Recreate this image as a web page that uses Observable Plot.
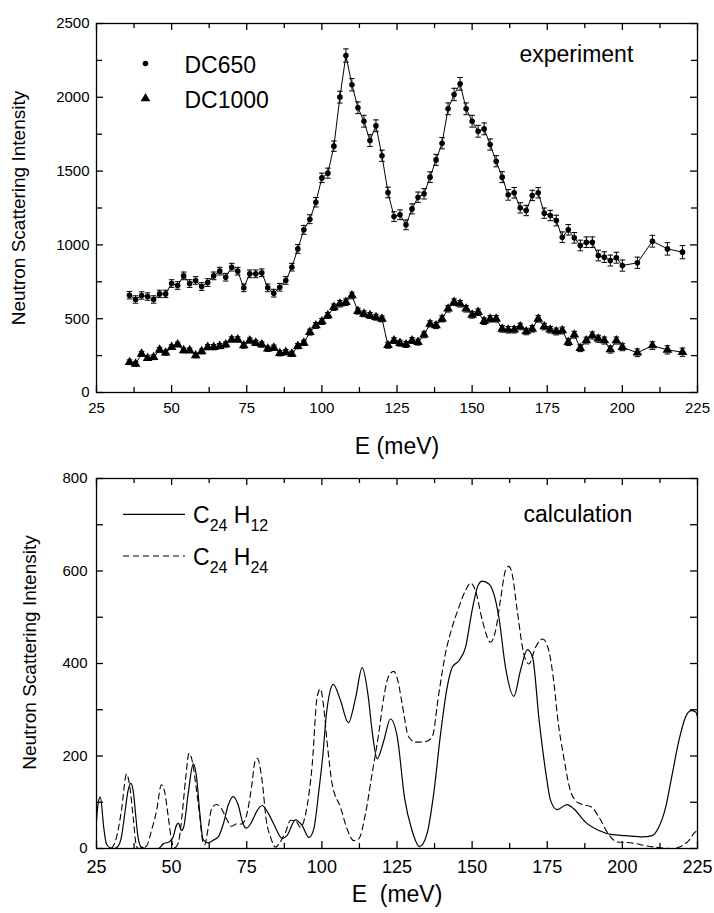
<!DOCTYPE html>
<html><head><meta charset="utf-8">
<script src="https://cdn.jsdelivr.net/npm/d3@7"></script>
<script src="https://cdn.jsdelivr.net/npm/@observablehq/plot@0.6"></script>
<style>
body{margin:0;background:#fff;}
#chart svg{display:block;}
</style></head><body><div id="chart"></div>
<script>
// ---------- experiment (top panel) ----------
const energyExp = [36,38,40,42,44,46,48,50,52,54,56,58,60,62,64,66,68,70,72,74,76,78,80,82,84,86,88,90,
  92,94,96,98,100,102,104,106,108,110,112,114,116,118,120,122,124,126,128,130,132,134,136,138,140,142,144,146,
  148,150,152,154,156,158,160,162,164,166,168,170,172,174,176,178,180,182,184,186,188,190,192,194,196,198,200,
  205,210,215,220];
const dc650 = [659,630,657,650,630,668,668,738,725,790,738,759,718,745,790,822,781,849,822,709,804,804,811,709,673,713,759,849,
  973,1102,1174,1289,1454,1486,1669,2001,2283,2085,1929,1838,1707,1807,1604,1355,1192,1204,1136,1244,1323,1346,1459,1576,1689,1922,2019,2091,
  1922,1838,1770,1786,1680,1567,1459,1339,1353,1251,1233,1335,1353,1215,1199,1165,1052,1102,1048,996,1018,1018,928,917,894,913,860,
  879,1025,973,951];
const dc650Err = [25,25,25,25,25,25,25,26,26,26,26,26,26,26,26,26,26,26,26,26,26,26,26,26,26,26,26,26,
  30,30,30,32,32,34,35,40,45,42,40,40,40,40,38,36,33,33,33,34,35,35,36,37,38,40,42,43,
  40,40,40,40,38,38,37,36,36,35,35,35,35,35,35,36,36,36,36,36,36,36,36,36,37,37,38,
  38,40,42,45];
const dc1000 = [205,194,262,233,239,289,269,307,325,285,285,251,278,307,307,314,325,359,359,318,352,336,325,296,303,266,273,262,
  314,336,409,454,481,522,578,601,612,657,551,533,522,510,499,320,352,334,325,352,341,391,465,454,499,567,612,601,
  567,526,544,483,499,499,431,425,425,447,413,431,499,447,425,413,420,341,391,300,352,386,364,352,291,352,307,
  269,318,289,273];
const dc1000Err = [16,16,16,16,16,16,16,16,16,16,16,16,16,18,18,18,18,18,18,18,18,18,18,18,18,18,18,18,
  18,18,20,20,20,20,22,22,22,22,20,20,20,20,20,20,20,20,20,20,20,20,21,21,21,22,22,22,
  22,22,22,22,22,22,22,22,22,22,22,22,22,22,22,23,23,23,23,23,23,24,24,24,24,24,24,
  26,26,28,28];

// ---------- calculation (bottom panel) ----------
const energyH12 = [25,25.6,26.3,27.4,28.3,29.4,31,32.2,33.3,34.4,35.5,36.4,37.2,38.1,38.8,39.9,41.6,45.5,47.2,49.4,50.5,51.6,52.2,53.3,54,
  55.5,57.2,58.3,59.4,60.5,62.2,63.8,65.5,67.2,68.8,70.5,72.2,73.8,74.9,76.6,78.2,80.1,82,84,86.8,88.4,91.2,93.4,95.7,97.3,99,100.3,101.5,
  102.3,103.8,106.2,108.8,111.2,113.4,115.4,116.7,118.4,120.6,122.8,125.1,127.5,130,132.5,135,137.2,139.5,141.7,143.4,145.6,147.8,150,152,153.4,
  155.6,157.2,158.9,161.1,163.9,166.1,168.4,170.1,172.3,174.5,176.1,178.3,181.6,183.8,187.7,192.2,196.6,201,206.6,209.9,212.1,214.4,216.6,218.8,
  221,222.9,224.4,225];
const c24h12 = [60,100,111,46,10,2,0,5,25,75,125,141,125,68,25,3,0,0,10,15,25,50,55,39,46,
  118,183,154,75,19,12,18,25,53,93,112,93,53,44,57,79,93,78,53,22,28,62,50,24,42,125,200,290,
  327,355,320,272,325,391,330,255,194,233,280,241,110,39,4,32,118,248,349,392,406,435,515,569,578,
  572,551,500,392,329,385,430,414,277,165,104,84,95,86,57,39,30,28,25,28,46,89,161,233,
  284,298,295,285];
const energyH24 = [30,31.7,33.3,35,36.1,37.2,38.3,39,41.6,43.3,45,46.6,47.7,48.9,50,51,52.2,53.3,54.7,55.8,57,58.3,59.4,60.3,61,
  62.2,63.3,65,66.6,68.3,69.9,71.6,73.3,74.9,76.6,77.7,78.5,80.1,81.5,82.9,84.6,85.7,87.9,89.6,91.2,92.9,94.6,96.8,98.4,99.5,100.6,101.7,
  103.4,106.2,108.4,110.6,112.3,114.5,116.7,118.9,120.6,122.3,123.9,125.4,126.7,128.9,131.2,134.5,136.7,138.9,141.1,143.4,145.6,147.8,149.5,
  151.1,153.4,156.1,157.8,159.4,161.1,162.2,163.3,165,167.2,168.9,171.1,173.5,175.5,177.5,178.3,180.5,182.7,184.4,186.6,189.4,192.2,195,
  198.3,203.3,207.7,212.1,216.6,219.9,222.1,223.7,225];
const c24h24 = [0,25,82,161,133,68,5,0,5,39,82,138,122,68,17,2,12,61,154,206,185,125,68,17,8,
  46,86,95,86,64,48,53,53,71,133,187,195,147,61,25,3,10,35,61,60,46,75,183,327,345,306,233,
  140,89,42,17,21,75,161,248,327,374,383,360,313,241,230,231,241,334,421,479,522,558,574,
  558,493,446,471,536,601,610,594,515,421,399,435,453,428,342,291,197,125,104,95,91,68,35,
  14,12,6,2,0,6,17,32,40];

// ---------- axes ----------
const xDomain = [25,225];
const yDomainTop = [0,2500];
const yDomainBottom = [0,800];
const xTicksMajor = [25,50,75,100,125,150,175,200,225];
const xTicksMinor = [37.5,62.5,87.5,112.5,137.5,162.5,187.5,212.5];
const yTicksTopMajor = [0,500,1000,1500,2000,2500];
const yTicksTopMinor = [250,750,1250,1750,2250];
const yTicksBottomLabeled = [0,200,400,600,800];
const yTicksBottomAll = [0,100,200,300,400,500,600,700,800];

const seriesNames = ["DC650","DC1000"];
const panelNotes = ["experiment","calculation"];
const xLabels = ["E (meV)","E\u00a0\u00a0(meV)"];
const yLabel = "Neutron Scattering Intensity";

const font = "'Liberation Sans', Arial, Helvetica, sans-serif";
const W = 714, ML = 96, MR = 17;
const FW = W - ML - MR; // frame width in px
const capSymbol = {draw(ctx, size){const r = Math.sqrt(size/Math.PI); ctx.moveTo(-r,0); ctx.lineTo(r,0);}};
const fmt = d => String(d);

const exp650 = energyExp.map((E,i)=>({E, I:dc650[i], err:dc650Err[i]}));
const exp1000 = energyExp.map((E,i)=>({E, I:dc1000[i], err:dc1000Err[i]}));
const calc12 = energyH12.map((E,i)=>({E, I:c24h12[i]}));
const calc24 = energyH24.map((E,i)=>({E, I:c24h24[i]}));

function errMarks(data, sym, r) {
  return [
    Plot.line(data, {x:"E", y:"I", stroke:"black", strokeWidth:1}),
    Plot.ruleX(data, {x:"E", y1:d=>d.I-d.err, y2:d=>d.I+d.err, stroke:"black", strokeWidth:1}),
    Plot.dot(data, {x:"E", y:d=>d.I-d.err, symbol:capSymbol, r:2.8, stroke:"black", strokeWidth:1, fill:"none"}),
    Plot.dot(data, {x:"E", y:d=>d.I+d.err, symbol:capSymbol, r:2.8, stroke:"black", strokeWidth:1, fill:"none"}),
    Plot.dot(data, {x:"E", y:"I", symbol:sym, r, fill:"black", stroke:"none"})
  ];
}

// inward tick marks on all four sides, drawn as short rules in data space
function inwardTicks(FH, yDom, xMaj, xMin, yMaj, yMin, yMinLen) {
  const kx = (xDomain[1]-xDomain[0]) / FW;   // data units per px (x)
  const ky = (yDom[1]-yDom[0]) / FH;         // data units per px (y)
  const s = {stroke:"black", strokeWidth:1.3};
  const m = [];
  for (const [arr, l] of [[xMaj,7],[xMin,5]]) {
    m.push(Plot.ruleX(arr, {x:d=>d, y1:yDom[0], y2:yDom[0]+l*ky, ...s}));
    m.push(Plot.ruleX(arr, {x:d=>d, y1:yDom[1], y2:yDom[1]-l*ky, ...s}));
  }
  for (const [arr, l] of [[yMaj,7],[yMin||[],yMinLen]]) {
    m.push(Plot.ruleY(arr, {y:d=>d, x1:xDomain[0], x2:xDomain[0]+l*kx, ...s}));
    m.push(Plot.ruleY(arr, {y:d=>d, x1:xDomain[1], x2:xDomain[1]-l*kx, ...s}));
  }
  return m;
}

const topChart = Plot.plot({
  width: W, height: 455,
  marginLeft: ML, marginRight: MR, marginTop: 23, marginBottom: 63,
  style: {fontFamily: font, color: "black", background: "white", overflow: "visible"},
  x: {domain:xDomain},
  y: {domain:yDomainTop},
  marks: [
    ...errMarks(exp1000, "triangle", 3.6),
    ...errMarks(exp650, "circle", 2.8),
    Plot.frame({stroke:"black", strokeWidth:1.3}),
    ...inwardTicks(455-23-63, yDomainTop, xTicksMajor, xTicksMinor, yTicksTopMajor, yTicksTopMinor, 6),
    Plot.axisX({anchor:"bottom", ticks:xTicksMajor, tickSize:0, tickPadding:10, fontSize:15, tickFormat:fmt, label:null}),
    Plot.axisY({anchor:"left", ticks:yTicksTopMajor, tickSize:0, tickPadding:7, fontSize:15, tickFormat:fmt, label:null}),
    Plot.text([xLabels[0]], {text:d=>d, frameAnchor:"bottom", dy:61, lineAnchor:"bottom", fontSize:23}),
    Plot.text([yLabel], {text:d=>d, frameAnchor:"left", dx:-78, rotate:-90, lineAnchor:"middle", textAnchor:"middle", fontSize:19}),
    Plot.dot([seriesNames[0]], {frameAnchor:"top-left", dx:49, dy:40, r:2.8, fill:"black", symbol:"circle"}),
    Plot.dot([seriesNames[1]], {frameAnchor:"top-left", dx:49, dy:75, r:3.6, fill:"black", symbol:"triangle"}),
    Plot.text([seriesNames[0]], {text:d=>d, frameAnchor:"top-left", dx:88, dy:49.7, lineAnchor:"bottom", textAnchor:"start", fontSize:23}),
    Plot.text([seriesNames[1]], {text:d=>d, frameAnchor:"top-left", dx:88, dy:84.3, lineAnchor:"bottom", textAnchor:"start", fontSize:23}),
    Plot.text([panelNotes[0]], {text:d=>d, frameAnchor:"top-left", dx:423, dy:38.7, lineAnchor:"bottom", textAnchor:"start", fontSize:23})
  ]
});

const bottomChart = Plot.plot({
  width: W, height: 458,
  marginLeft: ML, marginRight: MR, marginTop: 23, marginBottom: 65,
  style: {fontFamily: font, color: "black", background: "white", overflow: "visible"},
  x: {domain:xDomain},
  y: {domain:yDomainBottom},
  marks: [
    Plot.line(calc24, {x:"E", y:"I", stroke:"black", strokeWidth:1.1, strokeDasharray:"6,4", curve:"monotone-x", clip:true}),
    Plot.line(calc12, {x:"E", y:"I", stroke:"black", strokeWidth:1.2, curve:"monotone-x", clip:true}),
    Plot.frame({stroke:"black", strokeWidth:1.3}),
    ...inwardTicks(458-23-65, yDomainBottom, xTicksMajor, xTicksMinor, yTicksBottomAll, null, 7),
    Plot.axisX({anchor:"bottom", ticks:xTicksMajor, tickSize:0, tickPadding:12, fontSize:18, tickFormat:fmt, label:null}),
    Plot.axisY({anchor:"left", ticks:yTicksBottomLabeled, tickSize:0, tickPadding:9, fontSize:15, tickFormat:fmt, label:null}),
    Plot.text([xLabels[1]], {text:d=>d, frameAnchor:"bottom", dy:53.7, lineAnchor:"bottom", fontSize:23}),
    Plot.text([yLabel], {text:d=>d, frameAnchor:"left", dx:-67, dy:-11, rotate:-90, lineAnchor:"middle", textAnchor:"middle", fontSize:19}),
    Plot.text([panelNotes[1]], {text:d=>d, frameAnchor:"top-left", dx:427, dy:43.7, lineAnchor:"bottom", textAnchor:"start", fontSize:23})
  ]
});

// legend for the calculation panel (lines + subscripted formulas)
const legendItems = [
  {c:"C", cs:"24", h:"H", hs:"12", dash:null, ly:59.3, by:68},
  {c:"C", cs:"24", h:"H", hs:"24", dash:"6,4", ly:101, by:110}
];
const lg = d3.select(bottomChart).append("g")
  .attr("font-family", font).attr("fill","black").attr("text-anchor","start");
for (const it of legendItems) {
  lg.append("line").attr("x1",123).attr("x2",185).attr("y1",it.ly).attr("y2",it.ly)
    .attr("stroke","black").attr("stroke-width",1.2).attr("stroke-dasharray", it.dash);
  const t = lg.append("text").attr("x",193).attr("y",it.by).attr("font-size",23).attr("text-anchor","start");
  t.append("tspan").text(it.c);
  t.append("tspan").attr("font-size",16).attr("dy",8).text(it.cs);
  t.append("tspan").attr("dy",-8).text("\u00a0" + it.h);
  t.append("tspan").attr("font-size",16).attr("dy",8).text(it.hs);
}

document.getElementById("chart").append(topChart, bottomChart);
</script></body></html>
